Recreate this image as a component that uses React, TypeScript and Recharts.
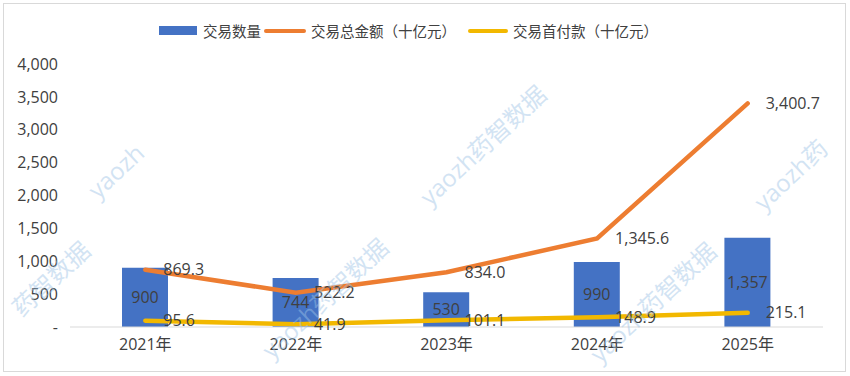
import React from 'react';
import { ComposedChart, Bar, Line, XAxis, YAxis, LabelList } from 'recharts';

const years = ['2021年', '2022年', '2023年', '2024年', '2025年'];
const dealCount = [900, 744, 530, 990, 1357];
const totalValue = [869.3, 522.2, 834.0, 1345.6, 3400.7];
const upfront = [95.6, 41.9, 101.1, 148.9, 215.1];
const yTicks = [0, 500, 1000, 1500, 2000, 2500, 3000, 3500, 4000];

const seriesNames = ['交易数量', '交易总金额（十亿元）', '交易首付款（十亿元）'];
const COLORS = ['#4472C4', '#ED7D31', '#F2B800'];

const data = years.map((y, i) => ({
  year: y,
  count: dealCount[i],
  total: totalValue[i],
  upfront: upfront[i],
}));

const FONT = '"Open Sans", "Noto Sans CJK SC", sans-serif';
const TEXT = '#404040';

const fmtInt = (v: number) => (v === 0 ? '-' : v.toLocaleString('en-US'));
const fmt1 = (v: number) =>
  v.toLocaleString('en-US', { minimumFractionDigits: 1, maximumFractionDigits: 1 });

// line labels sit to the right of the point
const RightLabel = (props: any) => {
  const { x, y, value } = props;
  return (
    <text x={x + 18} y={y} dy="0.35em" fill={TEXT} fontSize={16} fontFamily={FONT} textAnchor="start">
      {fmt1(value)}
    </text>
  );
};

// watermark spots (layout only)
const marks: [number, number, string][] = [
  [430, 207, 'yaozh药智数据'],
  [272, 360, 'yaozh药智数据'],
  [600, 364, 'yaozh药智数据'],
  [98, 200, 'yaozh'],
  [22, 318, '药智数据'],
  [764, 212, 'yaozh药'],
];

function Watermarks() {
  return (
    <svg width={850} height={376} style={{ position: 'absolute', left: 0, top: 0, pointerEvents: 'none' }}>
      {marks.map(([x, y, t], i) => (
        <text
          key={i}
          x={x}
          y={y}
          transform={`rotate(-43 ${x} ${y})`}
          fill="#9dc3e6"
          opacity={0.45}
          fontSize={24}
          fontFamily={FONT}
        >
          {t}
        </text>
      ))}
    </svg>
  );
}

function Legend() {
  return (
    <div
      style={{
        position: 'absolute', left: 159, top: 20, display: 'flex', alignItems: 'center',
        fontFamily: FONT, fontSize: 14.5, color: TEXT, whiteSpace: 'nowrap',
      }}
    >
      <span style={{ width: 38, height: 9, background: COLORS[0], marginRight: 6 }} />
      <span style={{ marginRight: 3 }}>{seriesNames[0]}</span>
      <span style={{ width: 42, height: 4, background: COLORS[1], borderRadius: 2, marginRight: 5 }} />
      <span style={{ marginRight: 12 }}>{seriesNames[1]}</span>
      <span style={{ width: 40, height: 4, background: COLORS[2], borderRadius: 2, marginRight: 5 }} />
      <span>{seriesNames[2]}</span>
    </div>
  );
}

export default function App() {
  return (
    <div style={{ position: 'absolute', left: 0, top: 0, width: 850, height: 376, background: '#fff' }}>
      <div
        style={{
          position: 'absolute', left: 3, top: 3, width: 843, height: 369,
          border: '1px solid #d9d9d9', boxSizing: 'border-box',
        }}
      />
      <ComposedChart
        width={850}
        height={376}
        data={data}
        margin={{ top: 64, right: 27, bottom: 19, left: 0 }}
        style={{ fontFamily: FONT }}
      >
        <XAxis
          dataKey="year"
          height={30}
          axisLine={{ stroke: '#d9d9d9' }}
          tickLine={false}
          tickMargin={6}
          tick={{ fill: TEXT, fontSize: 16, fontFamily: FONT }}
        />
        <YAxis
          width={70}
          domain={[0, 4000]}
          ticks={yTicks}
          axisLine={false}
          tickLine={false}
          tickMargin={6}
          tickFormatter={fmtInt}
          tick={{ fill: TEXT, fontSize: 16, fontFamily: FONT }}
        />
        <Bar dataKey="count" fill={COLORS[0]} barSize={46} isAnimationActive={false}>
          <LabelList
            dataKey="count"
            position="center"
            formatter={(v: any) => fmtInt(Number(v))}
            fill={TEXT}
            fontSize={16}
            fontFamily={FONT}
          />
        </Bar>
        <Line
          type="linear"
          dataKey="total"
          stroke={COLORS[1]}
          strokeWidth={4.5}
          dot={false}
          strokeLinecap="round"
          isAnimationActive={false}
        >
          <LabelList dataKey="total" content={RightLabel} />
        </Line>
        <Line
          type="linear"
          dataKey="upfront"
          stroke={COLORS[2]}
          strokeWidth={4.5}
          dot={false}
          strokeLinecap="round"
          isAnimationActive={false}
        >
          <LabelList dataKey="upfront" content={RightLabel} />
        </Line>
      </ComposedChart>
      <Legend />
      <Watermarks />
    </div>
  );
}
